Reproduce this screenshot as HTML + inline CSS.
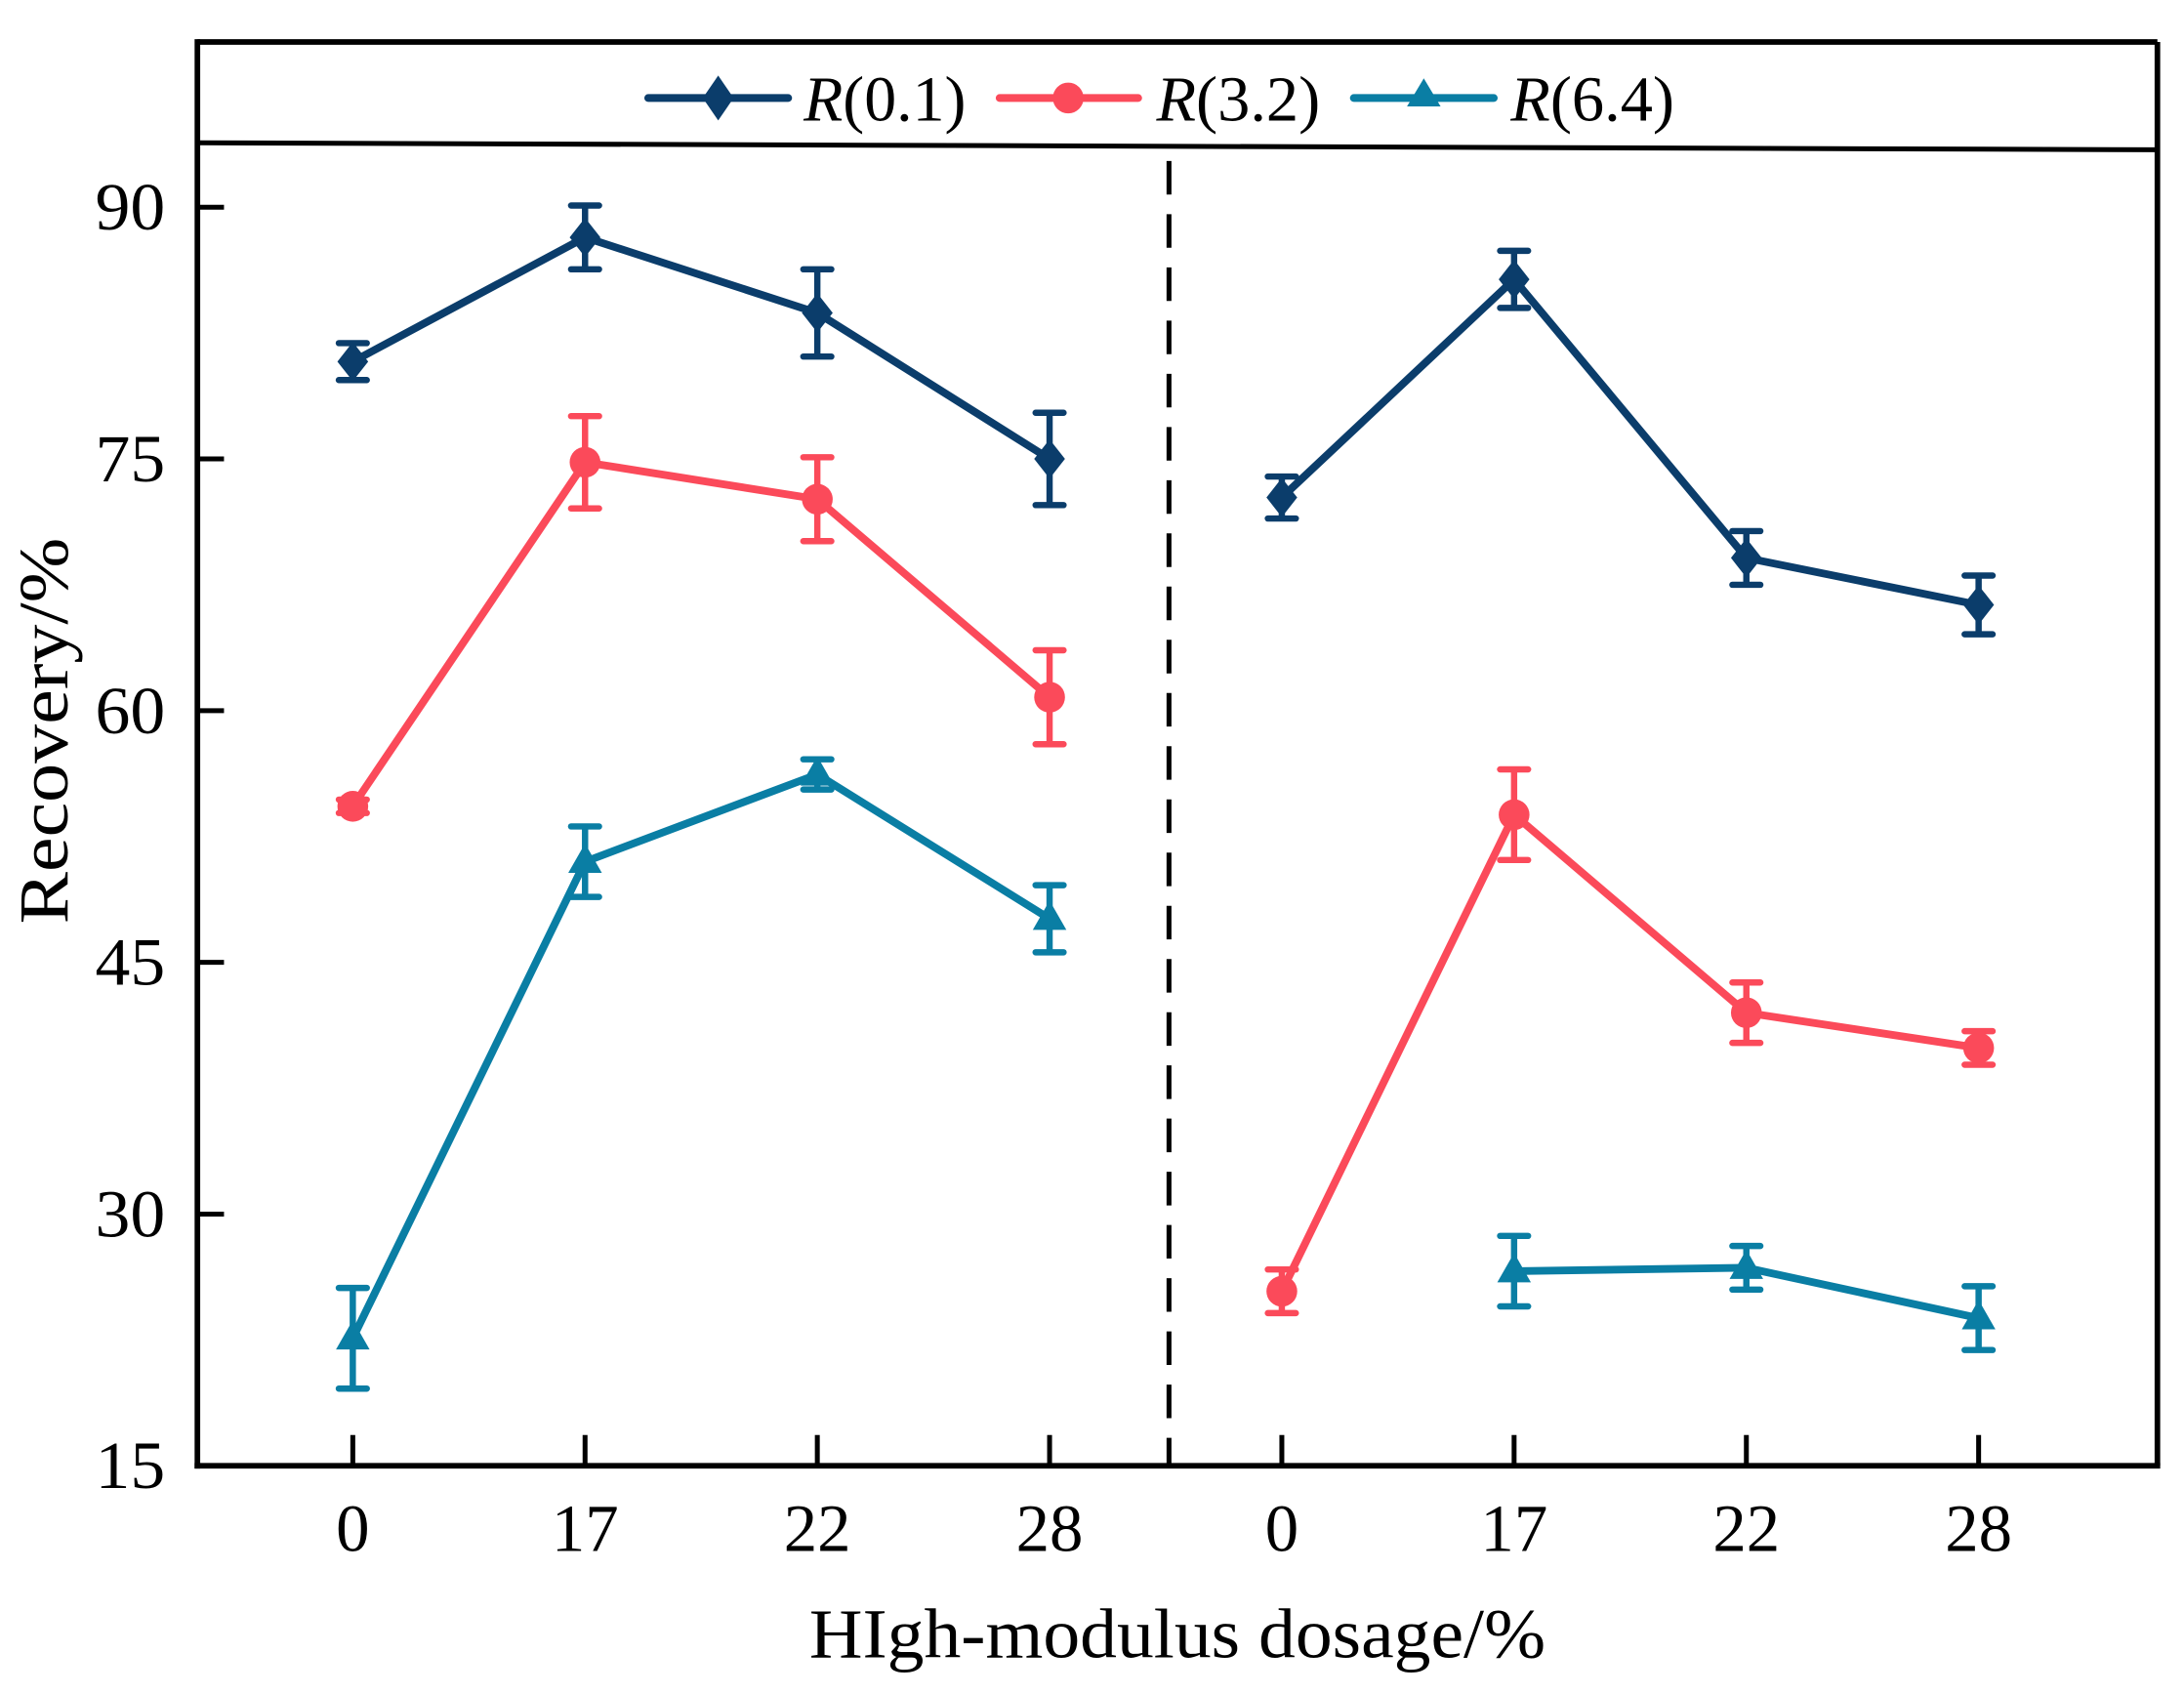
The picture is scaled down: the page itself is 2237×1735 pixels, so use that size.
<!DOCTYPE html>
<html><head><meta charset="utf-8"><style>
html,body{margin:0;padding:0;background:#fff;}
svg{display:block;font-family:"Liberation Serif",serif;}
</style></head><body>
<svg id="chart" width="2237" height="1735" viewBox="0 0 1560 1210" preserveAspectRatio="none" xmlns="http://www.w3.org/2000/svg">
<g id="frame">
<line x1="141" y1="30" x2="1541" y2="30" stroke="#000" stroke-width="4"/>
<line x1="1541" y1="30" x2="1541" y2="1047" stroke="#000" stroke-width="4"/>
<line x1="141" y1="28" x2="141" y2="1049" stroke="#000" stroke-width="4"/>
<line x1="139" y1="1047" x2="1543" y2="1047" stroke="#000" stroke-width="4"/>
<line x1="141" y1="102" x2="1541" y2="107" stroke="#000" stroke-width="3.5"/>
<line x1="835" y1="115" x2="835" y2="1047" stroke="#000" stroke-width="3.5" stroke-dasharray="24,14"/>
</g>
<g id="axes"></g>
<g id="series"></g>
<g id="legend">
<g>
<line x1="463" y1="70" x2="563" y2="70" stroke="#0b3d6b" stroke-width="5.5" stroke-linecap="round"/>
<polygon points="513,54 524,70 513,86 502,70" fill="#0b3d6b"/>
<text x="574" y="86" font-size="46" textLength="116" lengthAdjust="spacingAndGlyphs"><tspan font-style="italic">R</tspan>(0.1)</text>
</g>
<g>
<line x1="714" y1="70" x2="813" y2="70" stroke="#fb4a5a" stroke-width="5.5" stroke-linecap="round"/>
<circle cx="763" cy="70" r="11" fill="#fb4a5a"/>
<text x="826" y="86" font-size="46" textLength="117" lengthAdjust="spacingAndGlyphs"><tspan font-style="italic">R</tspan>(3.2)</text>
</g>
<g>
<line x1="967" y1="70" x2="1067" y2="70" stroke="#0a7ea4" stroke-width="5.5" stroke-linecap="round"/>
<polygon points="1017,56 1029,76 1005,76" fill="#0a7ea4"/>
<text x="1079" y="86" font-size="46" textLength="117" lengthAdjust="spacingAndGlyphs"><tspan font-style="italic">R</tspan>(6.4)</text>
</g>
</g>
<text x="578" y="1184" font-size="50" textLength="526" lengthAdjust="spacingAndGlyphs">HIgh-modulus dosage/%</text>
<text x="0" y="0" font-size="50" textLength="276" lengthAdjust="spacingAndGlyphs" transform="translate(48,660) rotate(-90)">Recovery/%</text>
</svg>
<script>
const categories = ["0","17","22","28","0","17","22","28"];
const yTicks = [15,30,45,60,75,90];
const r01 = [80.8,88.2,83.7,75.0,72.7,85.7,69.1,66.3];
const r01Err = [1.1,1.9,2.6,2.75,1.25,1.7,1.6,1.75];
const r32 = [54.3,74.8,72.6,60.8,25.4,53.8,42.0,39.9];
const r32Err = [0.4,2.75,2.5,2.8,1.3,2.7,1.8,1.0];
const r64 = [22.6,51.0,56.2,47.6,null,26.6,26.8,23.8];
const r64Err = [3.0,2.1,0.9,2.0,null,2.1,1.3,1.9];

const NS = "http://www.w3.org/2000/svg";
function xs(i){ return 252 + 165.9 * i; }
function ys(v){ return 1047 - (v - 15) * (899 / 75); }
function mk(tag, attrs, parent){
  const e = document.createElementNS(NS, tag);
  for (const k in attrs) e.setAttribute(k, attrs[k]);
  parent.appendChild(e);
  return e;
}
const axes = document.getElementById('axes');
yTicks.forEach(t => {
  const l = mk('line', {x1:141, x2:160, y1:ys(t), y2:ys(t), stroke:'#000', 'stroke-width':3.5}, axes);
  
  
  const tx = mk('text', {x:118, y:ys(t)+16, 'font-size':48, 'text-anchor':'end', textLength:50, lengthAdjust:'spacingAndGlyphs'}, axes);
  tx.textContent = t;
  
  
});
categories.forEach((c, i) => {
  const l = mk('line', {x1:xs(i), x2:xs(i), y1:1047, y2:1025, stroke:'#000', 'stroke-width':3.5}, axes);
  
  
  const tx = mk('text', {x:xs(i), y:1108, 'font-size':48, 'text-anchor':'middle'}, axes);
  tx.textContent = c;
  
  
});

const seriesG = document.getElementById('series');
function drawSeries(vals, errs, color, shape, name){
  const g = mk('g', {}, seriesG);
  
  
  let pts = [];
  const flush = () => {
    if (pts.length > 1) {
      const pl = mk('polyline', {points: pts.join(' '), fill:'none', stroke:color, 'stroke-width':5.5, 'stroke-linejoin':'round'}, g);
      
      
    }
    pts = [];
  };
  vals.forEach((v, i) => {
    if (i === 4) flush();
    if (v === null) { flush(); return; }
    pts.push(xs(i) + ',' + ys(v));
  });
  flush();
  vals.forEach((v, i) => {
    if (v === null) return;
    const x = xs(i), y1 = ys(v + errs[i]), y2 = ys(v - errs[i]);
    const eb = mk('path', {d:`M${x},${y1}V${y2}M${x-10},${y1}H${x+10}M${x-10},${y2}H${x+10}`, stroke:color, 'stroke-width':4.5, fill:'none', 'stroke-linecap':'round'}, g);
    
    
    const y = ys(v);
    let m;
    if (shape === 'diamond') m = mk('polygon', {points:`${x},${y-14} ${x+11},${y} ${x},${y+14} ${x-11},${y}`, fill:color}, g);
    else if (shape === 'circle') m = mk('circle', {cx:x, cy:y, r:11, fill:color}, g);
    else m = mk('polygon', {points:`${x},${y-13} ${x+12},${y+8} ${x-12},${y+8}`, fill:color}, g);
    
    
  });
}
drawSeries(r01, r01Err, '#0b3d6b', 'diamond', 'series-r01');
drawSeries(r32, r32Err, '#fb4a5a', 'circle', 'series-r32');
drawSeries(r64, r64Err, '#0a7ea4', 'triangle', 'series-r64');
</script>
</body></html>
